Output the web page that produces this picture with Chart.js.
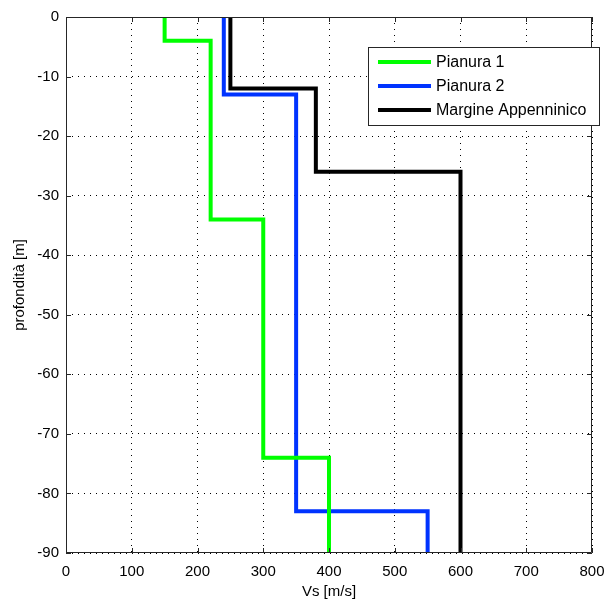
<!DOCTYPE html>
<html>
<head>
<meta charset="utf-8">
<script src="https://cdn.jsdelivr.net/npm/chart.js@4/dist/chart.umd.min.js"></script>
<style>
  html, body { margin: 0; padding: 0; background: #fff; }
  #wrap { width: 606px; height: 602px; }
</style>
</head>
<body>
<div id="wrap"><canvas id="myChart" width="606" height="602"></canvas></div>
<script>
// layer tops/bottoms (depth, m) and Vs of each layer (m/s)
const depthPianura1 = [0, -4, -34, -74, -90];
const vsPianura1 = [150, 220, 300, 400];
const depthPianura2 = [0, -13, -83, -90];
const vsPianura2 = [240, 350, 550];
const depthMargine = [0, -12, -26, -90];
const vsMargine = [250, 380, 600];

const seriesLabels = ['Pianura 1', 'Pianura 2', 'Margine Appenninico'];
const seriesColors = ['#00ff00', '#0033ff', '#000000'];

const FONT = 'Liberation Sans, Arial, sans-serif';

// turn layers into a step profile
function profile(depths, vs) {
  const pts = [];
  vs.forEach((v, i) => {
    pts.push({ x: v, y: depths[i] });
    pts.push({ x: v, y: depths[i + 1] });
  });
  return pts;
}

const profiles = [
  profile(depthPianura1, vsPianura1),
  profile(depthPianura2, vsPianura2),
  profile(depthMargine, vsMargine),
];

const datasets = profiles.map((pts, i) => ({
  label: seriesLabels[i],
  data: pts,
  borderColor: seriesColors[i],
  backgroundColor: seriesColors[i],
  borderWidth: 4,
  showLine: true,
  pointRadius: 0,
  borderJoinStyle: 'miter',
  borderCapStyle: 'butt',
}));

// box around the axes, inward ticks, and the legend inside the plot
const matlabBox = {
  id: 'matlabBox',
  afterDraw(chart) {
    const { ctx, chartArea: a, scales } = chart;
    ctx.save();
    ctx.strokeStyle = '#262626';
    ctx.lineWidth = 1;
    ctx.beginPath();
    ctx.rect(a.left + 0.5, a.top + 0.5, a.right - a.left - 1, a.bottom - a.top - 1);
    ctx.stroke();

    const len = 5;
    ctx.beginPath();
    scales.x.ticks.forEach((t) => {
      const px = Math.round(scales.x.getPixelForValue(t.value)) + 0.5;
      ctx.moveTo(px, a.bottom); ctx.lineTo(px, a.bottom - len);
      ctx.moveTo(px, a.top); ctx.lineTo(px, a.top + len);
    });
    scales.y.ticks.forEach((t) => {
      const py = Math.round(scales.y.getPixelForValue(t.value)) + 0.5;
      ctx.moveTo(a.left, py); ctx.lineTo(a.left + len, py);
      ctx.moveTo(a.right, py); ctx.lineTo(a.right - len, py);
    });
    ctx.stroke();

    // legend
    const bx = 368, by = 47, bw = 231, bh = 78;
    ctx.fillStyle = '#fff';
    ctx.fillRect(bx, by, bw, bh);
    ctx.strokeStyle = '#262626';
    ctx.strokeRect(bx + 0.5, by + 0.5, bw, bh);
    ctx.font = '16px ' + FONT;
    ctx.textBaseline = 'middle';
    chart.data.datasets.forEach((ds, i) => {
      const y = by + 15 + i * 24;
      ctx.strokeStyle = ds.borderColor;
      ctx.lineWidth = 4;
      ctx.beginPath();
      ctx.moveTo(bx + 10, y); ctx.lineTo(bx + 63, y);
      ctx.stroke();
      ctx.fillStyle = '#000';
      ctx.fillText(ds.label, bx + 68, y + 1);
    });
    ctx.restore();
  },
};

new Chart(document.getElementById('myChart'), {
  type: 'scatter',
  data: { datasets },
  options: {
    responsive: false,
    animation: false,
    layout: { padding: { left: 0, right: 14, top: 17, bottom: 0 } },
    scales: {
      x: {
        type: 'linear',
        min: 0,
        max: 800,
        afterFit: (s) => { s.height = 49; s.paddingLeft = 0; s.paddingRight = 0; },
        ticks: { stepSize: 100, color: '#000', padding: 10, font: { family: FONT, size: 15 } },
        grid: { color: '#000', drawTicks: false },
        border: { display: false, dash: [1, 5] },
        title: { display: true, text: 'Vs [m/s]', color: '#000', padding: { top: 0, bottom: 1 }, font: { family: FONT, size: 15 } },
      },
      y: {
        type: 'linear',
        min: -90,
        max: 0,
        afterFit: (s) => { s.width = 66; s.paddingTop = 0; s.paddingBottom = 0; },
        ticks: { stepSize: 10, color: '#000', padding: 7, font: { family: FONT, size: 15 } },
        grid: { color: '#000', drawTicks: false },
        border: { display: false, dash: [1, 5] },
        title: { display: true, text: 'profondità [m]', color: '#000', padding: { top: 11, bottom: 0 }, font: { family: FONT, size: 15 } },
      },
    },
    plugins: {
      legend: { display: false },
      tooltip: { enabled: false },
    },
  },
  plugins: [matlabBox],
});
</script>
</body>
</html>
